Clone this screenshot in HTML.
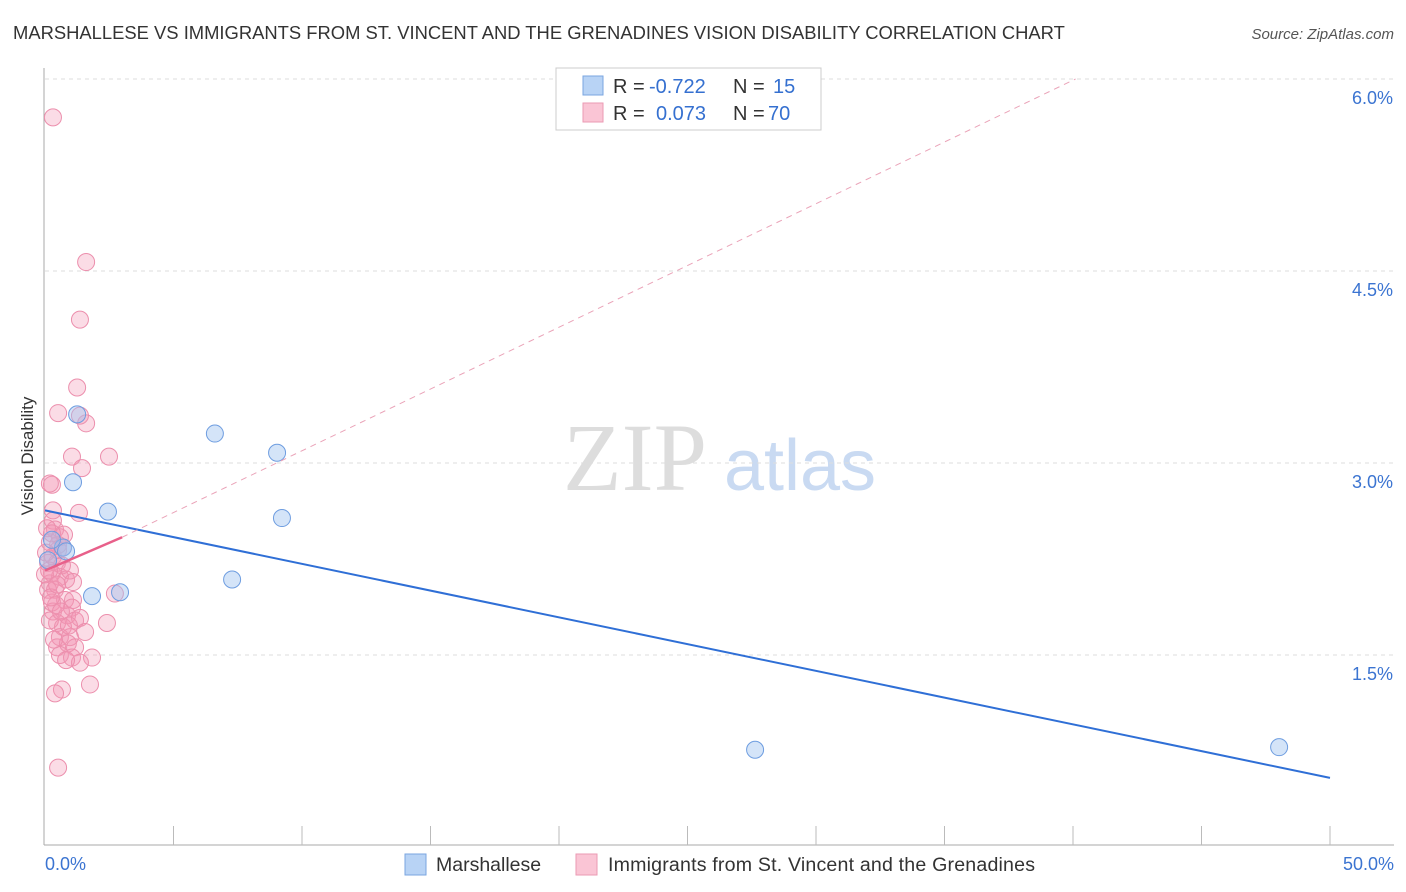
<!DOCTYPE html>
<html><head><meta charset="utf-8"><style>
body{margin:0;background:#fff;font-family:"Liberation Sans",sans-serif;}
#wrap{position:relative;width:1406px;height:892px;overflow:hidden;}
</style></head><body>
<div id="wrap">
<svg id="svg" width="1406" height="892" xmlns="http://www.w3.org/2000/svg">
<text x="13" y="39" font-size="18.4" fill="#333">MARSHALLESE VS IMMIGRANTS FROM ST. VINCENT AND THE GRENADINES VISION DISABILITY CORRELATION CHART</text>
<text x="1394" y="39" font-size="15" fill="#555" font-style="italic" text-anchor="end">Source: ZipAtlas.com</text>
<text x="33" y="456" font-size="17" fill="#333" text-anchor="middle" transform="rotate(-90 33 456)">Vision Disability</text>
<g><text x="635" y="490" font-size="96" fill="#ddd" font-family="Liberation Serif,serif" text-anchor="middle">ZIP</text><text x="800" y="490" font-size="72" fill="#c9daf2" text-anchor="middle">atlas</text></g>
<g id="grid"></g><g id="axes"></g><g id="pts"></g><g id="lines"></g>
<g>
<rect x="556" y="68" width="265" height="62" fill="#fff" stroke="#ccc"/>
<rect x="583" y="76" width="20" height="19" fill="#b8d3f5" stroke="#7aa6e0"/>
<rect x="583" y="103" width="20" height="19" fill="#fac5d5" stroke="#eb9ab3"/>
<text x="613" y="93" font-size="20" fill="#333">R =</text>
<text x="649" y="93" font-size="20" fill="#3570d0">-0.722</text>
<text x="733" y="93" font-size="20" fill="#333">N =</text>
<text x="773" y="93" font-size="20" fill="#3570d0">15</text>
<text x="613" y="120" font-size="20" fill="#333">R =</text>
<text x="656" y="120" font-size="20" fill="#3570d0">0.073</text>
<text x="733" y="120" font-size="20" fill="#333">N =</text>
<text x="768" y="120" font-size="20" fill="#3570d0">70</text>
</g>
<g>
<rect x="405" y="854" width="21" height="21" fill="#b8d3f5" stroke="#7aa6e0"/>
<text x="436" y="871" font-size="19.5" fill="#333">Marshallese</text>
<rect x="576" y="854" width="21" height="21" fill="#fac5d5" stroke="#eb9ab3"/>
<text x="608" y="871" font-size="19.6" fill="#333" textLength="427">Immigrants from St. Vincent and the Grenadines</text>
</g>
</svg>
</div>
<script>
const blueX=[1.25,1.09,2.45,0.70,0.82,0.27,1.83,2.92,6.61,9.03,9.22,7.28,27.63,48.02,0.12];
const blueY=[3.38,2.85,2.62,2.34,2.31,2.40,1.96,1.99,3.23,3.08,2.57,2.09,0.76,0.78,2.24];
const pinkX=[0.31,1.60,1.36,1.25,0.51,1.60,1.36,1.05,1.44,2.49,0.27,0.19,1.32,0.31,0.31,0.39,0.58,0.19,0.70,0.31,0.12,0.47,0.27,0.58,0.19,0.39,2.72,0.78,0.27,1.09,1.05,0.31,0.86,1.17,2.41,0.47,1.36,0.70,1.56,0.58,0.97,0.47,0.89,1.17,0.58,1.05,1.83,1.36,1.75,0.66,0.39,0.51,0.08,0.51,0.66,0.12,0.43,0.82,0.97,0,0.19,0.35,0.82,0.51,0.74,0.16,0.23,1.09,0.62,0.04,0.47,0.93,0.27];
const pinkY=[5.70,4.57,4.12,3.59,3.39,3.31,3.37,3.05,2.96,3.05,2.83,2.84,2.61,2.63,2.55,2.48,2.42,2.38,2.34,2.27,2.22,2.22,2.14,2.11,2.06,2.01,1.98,1.93,1.91,1.93,1.87,1.84,1.81,1.77,1.75,1.75,1.79,1.72,1.68,1.64,1.64,1.56,1.59,1.56,1.50,1.48,1.48,1.44,1.27,1.23,1.20,0.62,2.49,2.32,2.20,2.01,1.89,2.09,2.16,2.13,1.77,1.62,1.46,2.36,2.44,2.16,1.95,2.07,1.84,2.30,2.05,1.73,2.45];
const yTicks=[1.5,3.0,4.5,6.0];
const xTickLabels=["0.0%","50.0%"];
const blueTrend=[[0,2.63],[50,0.54]];
const pinkTrend=[[0,2.16],[3.0,2.42]];
const pinkDash=[[3.0,2.42],[40.1,6.0]];
const NS="http://www.w3.org/2000/svg";
const X=v=>45+v*25.7, Y=v=>463-(v-3)*128;
function mk(t,a,p){const e=document.createElementNS(NS,t);for(const k in a)e.setAttribute(k,a[k]);p.appendChild(e);return e;}
const grid=document.getElementById('grid'),axes=document.getElementById('axes'),pts=document.getElementById('pts'),lines=document.getElementById('lines');
yTicks.forEach(v=>{
 const l=mk('line',{x1:45,x2:1394,y1:Y(v),y2:Y(v),stroke:'#ddd','stroke-dasharray':'4,4'},grid);
 
 
 const t=mk('text',{x:1393,y:Y(v)+25,'font-size':18,fill:'#3b74d1','text-anchor':'end'},grid);
 t.textContent=v.toFixed(1)+'%';
 
 
});
const ax=mk('line',{x1:44,x2:44,y1:68,y2:845,stroke:'#aaa'},axes);


const bx=mk('line',{x1:44,x2:1394,y1:845,y2:845,stroke:'#aaa'},axes);


for(let i=1;i<=10;i++){const tk=mk('line',{x1:X(i*5),x2:X(i*5),y1:826,y2:845,stroke:'#bbb'},axes);
 
 }
[[0,'start',45],[50,'end',1394]].forEach((d,i)=>{const t=mk('text',{x:d[2],y:870,'font-size':18,fill:'#3b74d1','text-anchor':d[1]},axes);t.textContent=xTickLabels[i];
 
 });
pinkX.forEach((x,i)=>{const c=mk('circle',{cx:X(x),cy:Y(pinkY[i]),r:8.5,fill:'rgba(244,150,180,0.33)',stroke:'#ec8fad','stroke-width':1},pts);
 
 });
blueX.forEach((x,i)=>{const c=mk('circle',{cx:X(x),cy:Y(blueY[i]),r:8.5,fill:'rgba(160,196,240,0.45)',stroke:'#6e9de0','stroke-width':1},pts);
 
 });
const bl=mk('line',{x1:X(blueTrend[0][0]),y1:Y(blueTrend[0][1]),x2:X(blueTrend[1][0]),y2:Y(blueTrend[1][1]),stroke:'#2f6fd6','stroke-width':2},lines);


const pd=mk('line',{x1:X(pinkDash[0][0]),y1:Y(pinkDash[0][1]),x2:X(pinkDash[1][0]),y2:Y(pinkDash[1][1]),stroke:'#eaa3b8','stroke-width':1,'stroke-dasharray':'6,5'},lines);


const pl=mk('line',{x1:X(pinkTrend[0][0]),y1:Y(pinkTrend[0][1]),x2:X(pinkTrend[1][0]),y2:Y(pinkTrend[1][1]),stroke:'#e8608a','stroke-width':2.5},lines);


</script>
</body></html>
